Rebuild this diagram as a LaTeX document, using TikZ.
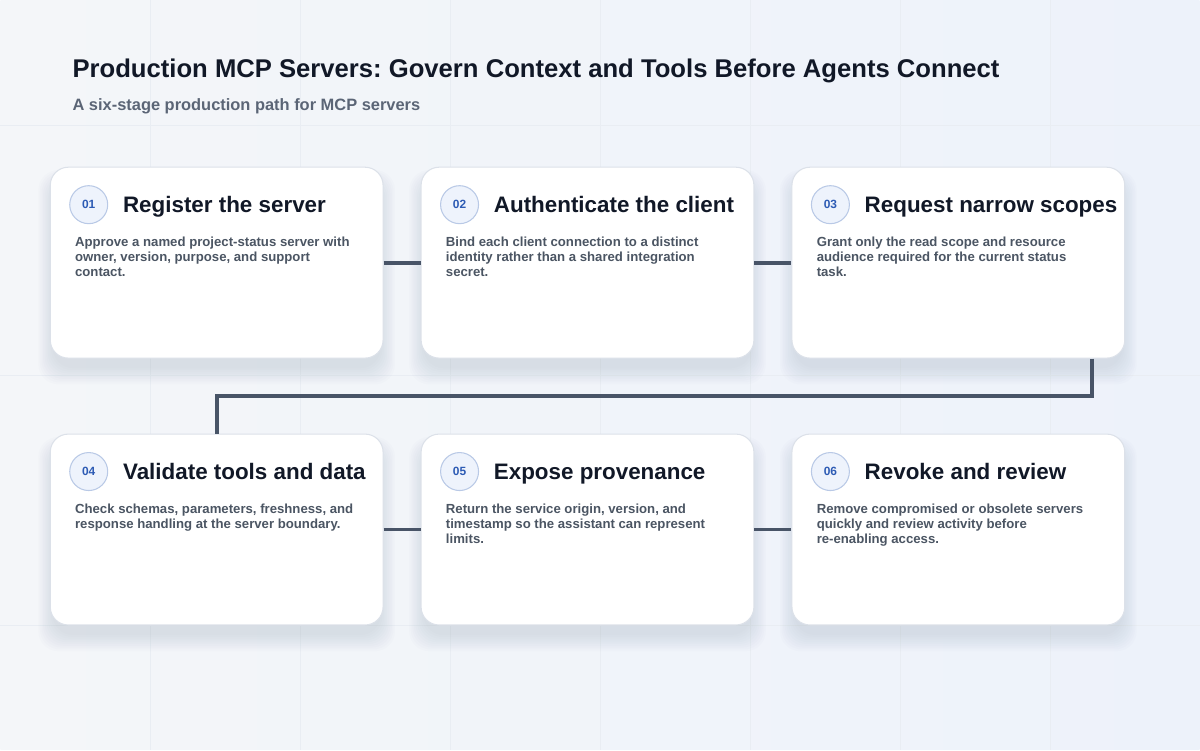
\documentclass[tikz,border=0pt]{standalone}
\usepackage{fontspec}
\setmainfont{Liberation Sans}
\usepackage{tikz}
\usetikzlibrary{positioning, calc}
\frenchspacing

\definecolor{bgleft}{HTML}{F4F6F9}
\definecolor{bgright}{HTML}{EDF2FA}
\definecolor{gridc}{HTML}{E9EDF3}
\definecolor{ink}{HTML}{111827}
\definecolor{subink}{HTML}{5B6576}
\definecolor{bodyink}{HTML}{4B5563}
\definecolor{cardline}{HTML}{DCE1E9}
\definecolor{badgefill}{HTML}{EEF3FC}
\definecolor{badgeline}{HTML}{B9C9E6}
\definecolor{badgeink}{HTML}{2D5BB4}
\definecolor{linkc}{HTML}{485467}
\definecolor{shadowc}{HTML}{8A97B0}

\begin{document}
\begin{tikzpicture}[x=0.02cm, y=-0.02cm,
	card/.style = {rectangle, rounded corners=0.36cm, fill=white, draw=cardline, line width=0.6pt,
		minimum width=6.66cm, minimum height=3.82cm, inner sep=0pt},
	link/.style = {draw=linkc, line width=2.2pt}]

\tikzstyle{badge} = [circle, fill=badgefill, draw=badgeline, line width=0.6pt, minimum size=0.76cm, inner sep=0pt,
	text=badgeink, font=\bfseries\fontsize{6.8}{8}\selectfont]
\tikzstyle{steptitle} = [anchor=base west, inner sep=0pt, text=ink, font=\bfseries\fontsize{12.75}{15}\selectfont]
\tikzstyle{stepbody} = [anchor=north west, inner sep=0pt, align=left, text=bodyink, font=\bfseries\fontsize{7.5}{8.6}\selectfont]

% background and faint grid
\shade[left color=bgleft, right color=bgright] (0,0) rectangle (1200,750);
\foreach \gx in {150,300,...,1050} \draw[gridc, line width=0.3pt] (\gx,0) -- (\gx,750);
\foreach \gy in {125,375,625} \draw[gridc, line width=0.3pt] (0,\gy) -- (1200,\gy);

% heading
\node[anchor=base west, inner sep=0pt, text=ink, font=\bfseries\fontsize{14.6}{17}\selectfont] (title) at (72,77)
	{Production MCP Servers: Govern Context and Tools Before Agents Connect};
\node[anchor=base west, inner sep=0pt, text=subink, font=\bfseries\fontsize{9.35}{11}\selectfont] (subtitle) at (72,110)
	{A six-stage production path for MCP servers};

% soft shadows under the cards
\foreach \cx/\cy in {216.5/262.5, 587.5/262.5, 958.5/262.5, 216.5/529.5, 587.5/529.5, 958.5/529.5}
	\foreach \k in {0,...,9}
		\fill[shadowc, opacity=0.022, rounded corners=0.4cm]
			(\cx-164-\k*1.6, \cy-90-\k*1.4+10) rectangle (\cx+164+\k*1.6, \cy+95.5+\k*1.8+10);

% cards
\node[card] (c1) at (216.5,262.5) {};
\node[card] (c2) at (587.5,262.5) {};
\node[card] (c3) at (958.5,262.5) {};
\node[card] (c4) at (216.5,529.5) {};
\node[card] (c5) at (587.5,529.5) {};
\node[card] (c6) at (958.5,529.5) {};

% connectors
\draw[link] (c1.east) -- (c2.west);
\draw[link] (c2.east) -- (c3.west);
\coordinate (drop) at ($(c3.south east)+(-33,0)$);
\draw[link] (drop) -- ++(0,37) -| (c4.north);
\draw[link] (c4.east) -- (c5.west);
\draw[link] (c5.east) -- (c6.west);

% step 01
\node[badge] (b1) at ($(c1.north west)+(39,38)$) {01};
\node[steptitle] (t1) at ($(c1.north west)+(73,46)$) {Register the server};
\node[stepbody] (d1) at ($(c1.north west)+(25,70)$)
	{Approve a named project-status server with\\owner, version, purpose, and support\\contact.};

% step 02
\node[badge] (b2) at ($(c2.north west)+(39,38)$) {02};
\node[steptitle] (t2) at ($(c2.north west)+(73,46)$) {Authenticate the client};
\node[stepbody] (d2) at ($(c2.north west)+(25,70)$)
	{Bind each client connection to a distinct\\identity rather than a shared integration\\secret.};

% step 03
\node[badge] (b3) at ($(c3.north west)+(39,38)$) {03};
\node[steptitle] (t3) at ($(c3.north west)+(73,46)$) {Request narrow scopes};
\node[stepbody] (d3) at ($(c3.north west)+(25,70)$)
	{Grant only the read scope and resource\\audience required for the current status\\task.};

% step 04
\node[badge] (b4) at ($(c4.north west)+(39,38)$) {04};
\node[steptitle] (t4) at ($(c4.north west)+(73,46)$) {Validate tools and data};
\node[stepbody] (d4) at ($(c4.north west)+(25,70)$)
	{Check schemas, parameters, freshness, and\\response handling at the server boundary.};

% step 05
\node[badge] (b5) at ($(c5.north west)+(39,38)$) {05};
\node[steptitle] (t5) at ($(c5.north west)+(73,46)$) {Expose provenance};
\node[stepbody] (d5) at ($(c5.north west)+(25,70)$)
	{Return the service origin, version, and\\timestamp so the assistant can represent\\limits.};

% step 06
\node[badge] (b6) at ($(c6.north west)+(39,38)$) {06};
\node[steptitle] (t6) at ($(c6.north west)+(73,46)$) {Revoke and review};
\node[stepbody] (d6) at ($(c6.north west)+(25,70)$)
	{Remove compromised or obsolete servers\\quickly and review activity before\\re-enabling access.};
\end{tikzpicture}
\end{document}
